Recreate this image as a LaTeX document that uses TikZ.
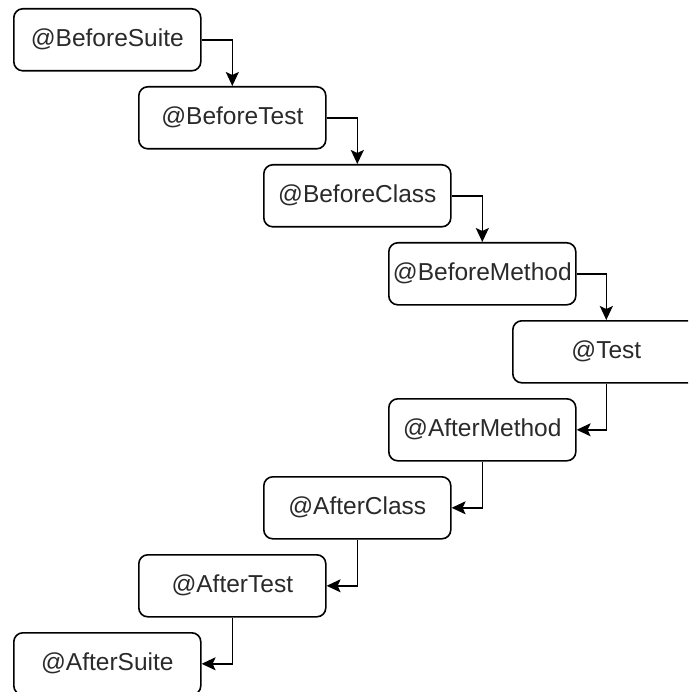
\documentclass[tikz,border=0pt]{standalone}
\usepackage{fontspec}
\setmainfont{Liberation Sans}
\usetikzlibrary{arrows.meta}
\definecolor{txt}{HTML}{2a2a2a}
\tikzset{
  box/.style={draw=black, line width=1.6pt, rounded corners=9pt, minimum width=187pt, minimum height=62pt,
    inner sep=0pt, anchor=north west, text=txt, font=\fontsize{24.5}{29}\selectfont},
  conn/.style={draw=black, line width=1.6pt, -{Stealth[length=14pt,width=13pt,inset=3pt]}}
}
\begin{document}
\begin{tikzpicture}[x=1pt,y=-1pt]
\useasboundingbox (0,0) rectangle (688,692);
\begin{scope}
\clip (0,0) rectangle (688,692);
\node[box] (bs) at (13,8) {@BeforeSuite};
\node[box] (bt) at (138,86) {@BeforeTest};
\node[box] (bc) at (263,164) {@BeforeClass};
\node[box] (bm) at (388,242) {@BeforeMethod};
\node[box] (t) at (512,320) {@Test};
\node[box] (am) at (388,398) {@AfterMethod};
\node[box] (ac) at (263,476) {@AfterClass};
\node[box] (at) at (138,554) {@AfterTest};
\node[box] (as) at (13,632) {@AfterSuite};
\end{scope}
\draw[conn] (bs.east) -| (bt.north);
\draw[conn] (bt.east) -| (bc.north);
\draw[conn] (bc.east) -| (bm.north);
\draw[conn] (bm.east) -| (t.north);
\draw[conn] (t.south) |- (am.east);
\draw[conn] (am.south) |- (ac.east);
\draw[conn] (ac.south) |- (at.east);
\draw[conn] (at.south) |- (as.east);
\end{tikzpicture}
\end{document}
